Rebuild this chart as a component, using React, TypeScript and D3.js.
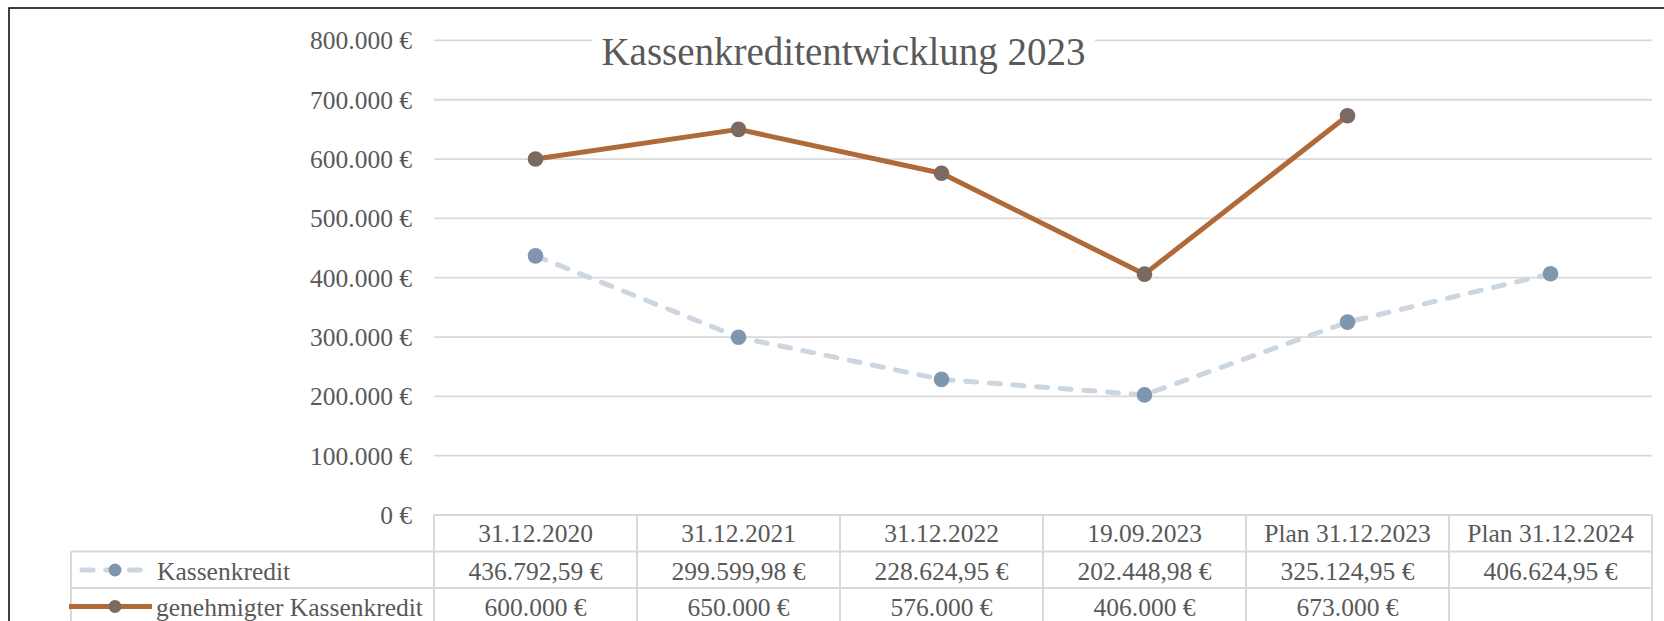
import React from "react";
import * as d3 from "d3";

const categories = ["31.12.2020", "31.12.2021", "31.12.2022", "19.09.2023", "Plan 31.12.2023", "Plan 31.12.2024"];
const kassenkredit = [436792.59, 299599.98, 228624.95, 202448.98, 325124.95, 406624.95];
const genehmigt: (number | null)[] = [600000, 650000, 576000, 406000, 673000, null];
const yTicks = [0, 100000, 200000, 300000, 400000, 500000, 600000, 700000, 800000];
const seriesNames = ["Kassenkredit", "genehmigter Kassenkredit"];
const title = "Kassenkreditentwicklung 2023";

const W = 1664, H = 621;
const FONT = "'Liberation Serif', 'Times New Roman', serif";
const TXT = "#595959";
const GRID = "#d9d9d9";
const DASH_COL = "#cbd6e0";
const BLUE_MK = "#7f97ae";
const BROWN = "#b06a38";
const BROWN_MK = "#7b6a61";

const loc = d3.formatLocale({ decimal: ",", thousands: ".", grouping: [3], currency: ["", " €"] });
const fmt0 = loc.format(",.0f");
const fmt2 = loc.format(",.2f");

export default function App() {
  const x = d3.scaleBand<string>().domain(categories).range([434, 1652]);
  const y = d3.scaleLinear().domain([0, 800000]).range([515, 40.4]);
  const cx = (c: string) => (x(c) as number) + x.bandwidth() / 2;

  const dashedLine = d3
    .line<number>()
    .x((_, i) => cx(categories[i]))
    .y((d) => y(d));
  const brownLine = d3
    .line<number | null>()
    .defined((d) => d != null)
    .x((_, i) => cx(categories[i]))
    .y((d) => y(d as number));

  const tableTop = y(0);
  const rowH = 36.5;
  const rows = [tableTop, tableTop + rowH, tableTop + 2 * rowH, tableTop + 3 * rowH];
  const legendLeft = 71;
  const fs = 25.5;

  return (
    <svg width={W} height={H} style={{ position: "absolute", left: 0, top: 0, background: "#fff" }} fontFamily={FONT}>
      <rect x={0} y={0} width={W} height={H} fill="#fff" />
      {/* chart border */}
      <rect x={9} y={8} width={W + 20} height={H + 20} fill="none" stroke="#000" strokeWidth={1.5} />
      {/* gridlines */}
      {yTicks.map((t) => (
        <line key={"g" + t} x1={434} x2={1652} y1={y(t)} y2={y(t)} stroke={GRID} strokeWidth={1.8} />
      ))}
      {/* y labels */}
      {yTicks.map((t) => (
        <text key={"l" + t} x={412} y={y(t) + 9} textAnchor="end" fontSize={fs} fill={TXT}>
          {fmt0(t) + " €"}
        </text>
      ))}
      {/* title */}
      <rect x={592} y={28} width={503} height={48} fill="#fff" />
      <text x={843.5} y={65} textAnchor="middle" fontSize={39} fill={TXT}>
        {title}
      </text>
      {/* series */}
      <path d={dashedLine(kassenkredit) || ""} fill="none" stroke={DASH_COL} strokeWidth={5} strokeDasharray="11 12.7" strokeLinecap="round" strokeLinejoin="round" />
      <path d={brownLine(genehmigt) || ""} fill="none" stroke={BROWN} strokeWidth={5} strokeLinejoin="round" />
      {kassenkredit.map((v, i) => (
        <circle key={"k" + i} cx={cx(categories[i])} cy={y(v)} r={7.8} fill={BLUE_MK} />
      ))}
      {genehmigt.map((v, i) =>
        v == null ? null : <circle key={"b" + i} cx={cx(categories[i])} cy={y(v)} r={7.8} fill={BROWN_MK} />
      )}
      {/* data table */}
      <g stroke={GRID} strokeWidth={2}>
        <line x1={434} x2={1652} y1={rows[0]} y2={rows[0]} />
        <line x1={legendLeft} x2={1652} y1={rows[1]} y2={rows[1]} />
        <line x1={legendLeft} x2={1652} y1={rows[2]} y2={rows[2]} />
        <line x1={legendLeft} x2={1652} y1={rows[3]} y2={rows[3]} />
        <line x1={legendLeft} x2={legendLeft} y1={rows[1]} y2={rows[3]} />
        {categories.map((c) => (
          <line key={"v" + c} x1={x(c) as number} x2={x(c) as number} y1={rows[0]} y2={rows[3]} />
        ))}
        <line x1={1652} x2={1652} y1={rows[0]} y2={rows[3]} />
      </g>
      {categories.map((c) => (
        <text key={"h" + c} x={cx(c)} y={rows[0] + 27} textAnchor="middle" fontSize={fs} fill={TXT}>
          {c}
        </text>
      ))}
      {kassenkredit.map((v, i) => (
        <text key={"r1" + i} x={cx(categories[i])} y={rows[1] + 28} textAnchor="middle" fontSize={fs} fill={TXT}>
          {fmt2(v) + " €"}
        </text>
      ))}
      {genehmigt.map((v, i) =>
        v == null ? null : (
          <text key={"r2" + i} x={cx(categories[i])} y={rows[2] + 28} textAnchor="middle" fontSize={fs} fill={TXT}>
            {fmt0(v) + " €"}
          </text>
        )
      )}
      {/* legend keys */}
      <line x1={82} x2={143} y1={rows[1] + 18.5} y2={rows[1] + 18.5} stroke={DASH_COL} strokeWidth={5} strokeDasharray="11 12.7" strokeLinecap="round" />
      <circle cx={115} cy={rows[1] + 18.5} r={6.5} fill={BLUE_MK} />
      <text x={157} y={rows[1] + 28} fontSize={fs} fill={TXT}>
        {seriesNames[0]}
      </text>
      <line x1={69} x2={152} y1={rows[2] + 18.5} y2={rows[2] + 18.5} stroke={BROWN} strokeWidth={5} />
      <circle cx={115} cy={rows[2] + 18.5} r={6.5} fill={BROWN_MK} />
      <text x={156} y={rows[2] + 28} fontSize={fs} fill={TXT}>
        {seriesNames[1]}
      </text>
    </svg>
  );
}
